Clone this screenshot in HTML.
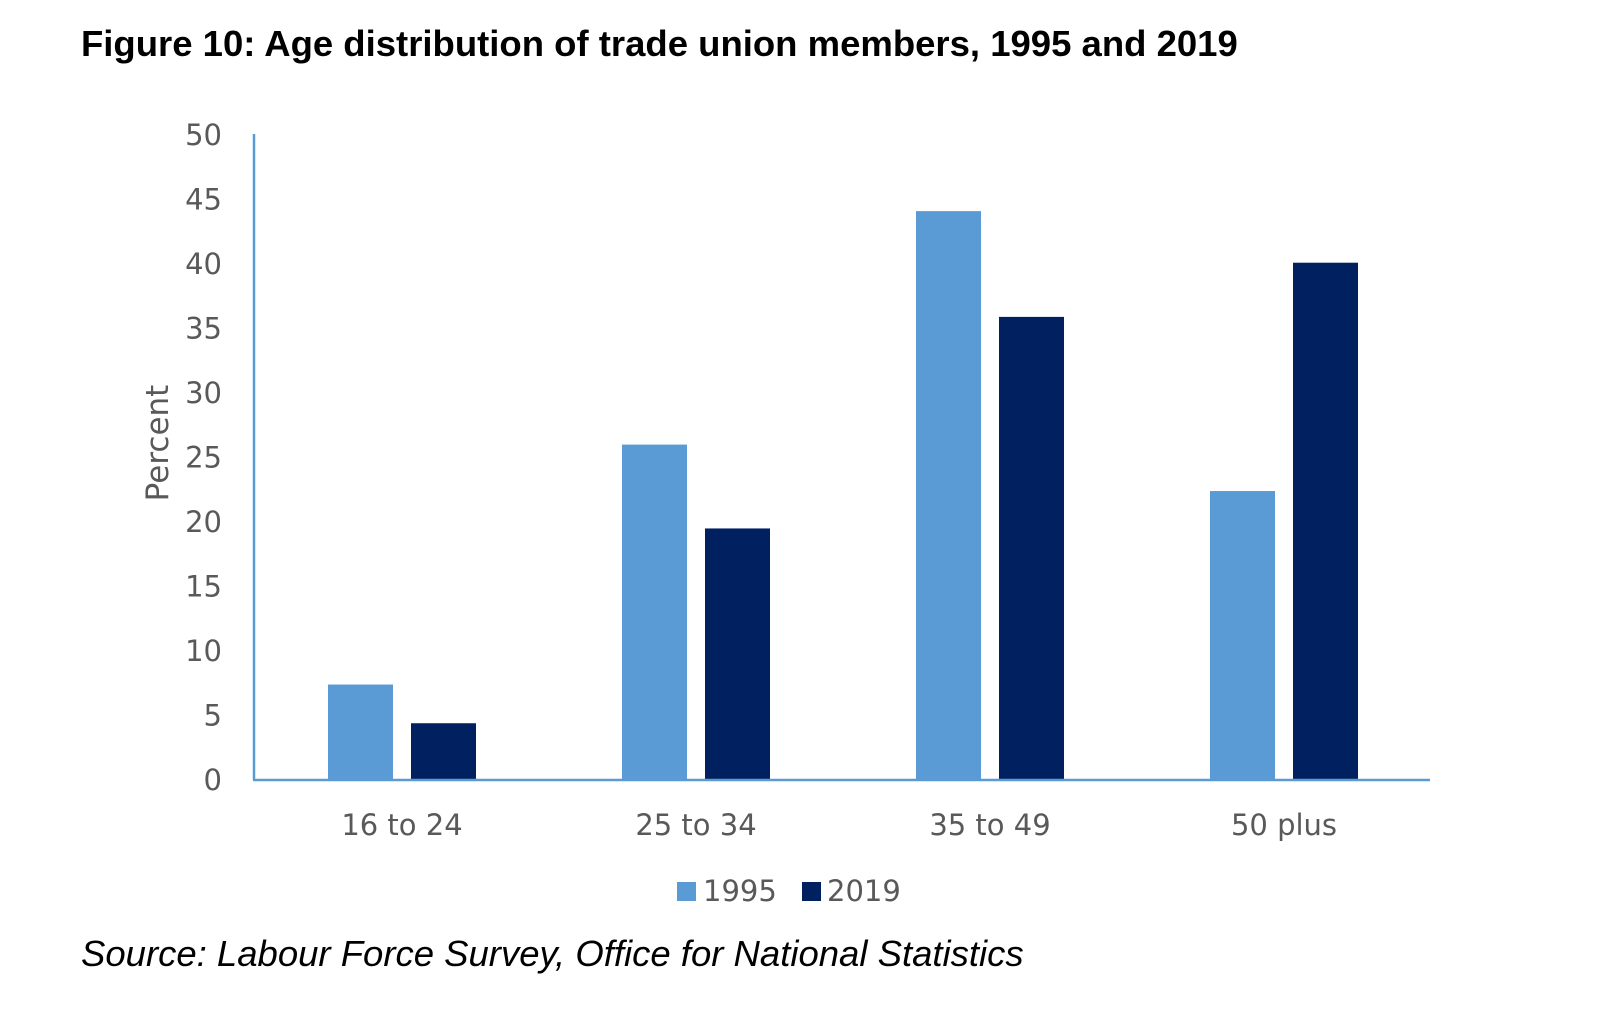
<!DOCTYPE html>
<html><head><meta charset="utf-8"><style>
body{margin:0;background:#fff;width:1600px;height:1029px;overflow:hidden}
svg{display:block}
</style></head><body>
<svg id="chart" width="1600" height="1029">
<text x="81" y="56" font-family="Liberation Sans, sans-serif" font-weight="bold" font-size="36.5" fill="#000">Figure 10: Age distribution of trade union members, 1995 and 2019</text>
<text x="81" y="966" font-family="Liberation Sans, sans-serif" font-style="italic" font-size="36.5" fill="#000">Source: Labour Force Survey, Office for National Statistics</text>
<text transform="translate(168,443) rotate(-90)" text-anchor="middle" font-family="DejaVu Sans, sans-serif" font-size="31" fill="#595959">Percent</text>
<g id="ticks"></g><g id="bars"></g><g id="xlabels"></g>
<line x1="254" y1="134" x2="254" y2="780" stroke="#5b9bd5" stroke-width="2.5"/>
<line x1="253" y1="780" x2="1430" y2="780" stroke="#5b9bd5" stroke-width="2.5"/>
<g>
<rect x="677" y="882" width="19" height="19" fill="#5b9bd5"/>
<text x="703" y="901" font-family="DejaVu Sans, sans-serif" font-size="29" fill="#595959">1995</text>
<rect x="802" y="882" width="19" height="19" fill="#002060"/>
<text x="827" y="901" font-family="DejaVu Sans, sans-serif" font-size="29" fill="#595959">2019</text>
</g>
</svg>
<script>
const categories=["16 to 24","25 to 34","35 to 49","50 plus"];
const values1995=[7.4,26.0,44.1,22.4];
const values2019=[4.4,19.5,35.9,40.1];
const tickLabels=[0,5,10,15,20,25,30,35,40,45,50];
const NS="http://www.w3.org/2000/svg";
const y0=780,y50=135,xLeft=255,xRight=1431;
function yScale(v){return y0-(v/50)*(y0-y50);}
function xCenter(i){const w=(xRight-xLeft)/categories.length;return xLeft+w*(i+0.5);}
function mk(t,a,p){const e=document.createElementNS(NS,t);for(const k in a)e.setAttribute(k,a[k]);p.appendChild(e);return e;}
const tg=document.getElementById('ticks');
tickLabels.forEach(v=>{const t=mk('text',{x:222,y:yScale(v)+10,'text-anchor':'end','font-family':'DejaVu Sans, sans-serif','font-size':29,fill:'#595959'},tg);t.textContent=v;

});
const bg=document.getElementById('bars'),xg=document.getElementById('xlabels');
const bw=65,gap=18;
categories.forEach((c,i)=>{const cx=xCenter(i);
const b1=mk('rect',{x:cx-gap/2-bw,y:yScale(values1995[i]),width:bw,height:y0-yScale(values1995[i]),fill:'#5b9bd5'},bg);


const b2=mk('rect',{x:cx+gap/2,y:yScale(values2019[i]),width:bw,height:y0-yScale(values2019[i]),fill:'#002060'},bg);


const t=mk('text',{x:cx,y:835,'text-anchor':'middle','font-family':'DejaVu Sans, sans-serif','font-size':29,fill:'#595959'},xg);t.textContent=c;

});
</script>
</body></html>
